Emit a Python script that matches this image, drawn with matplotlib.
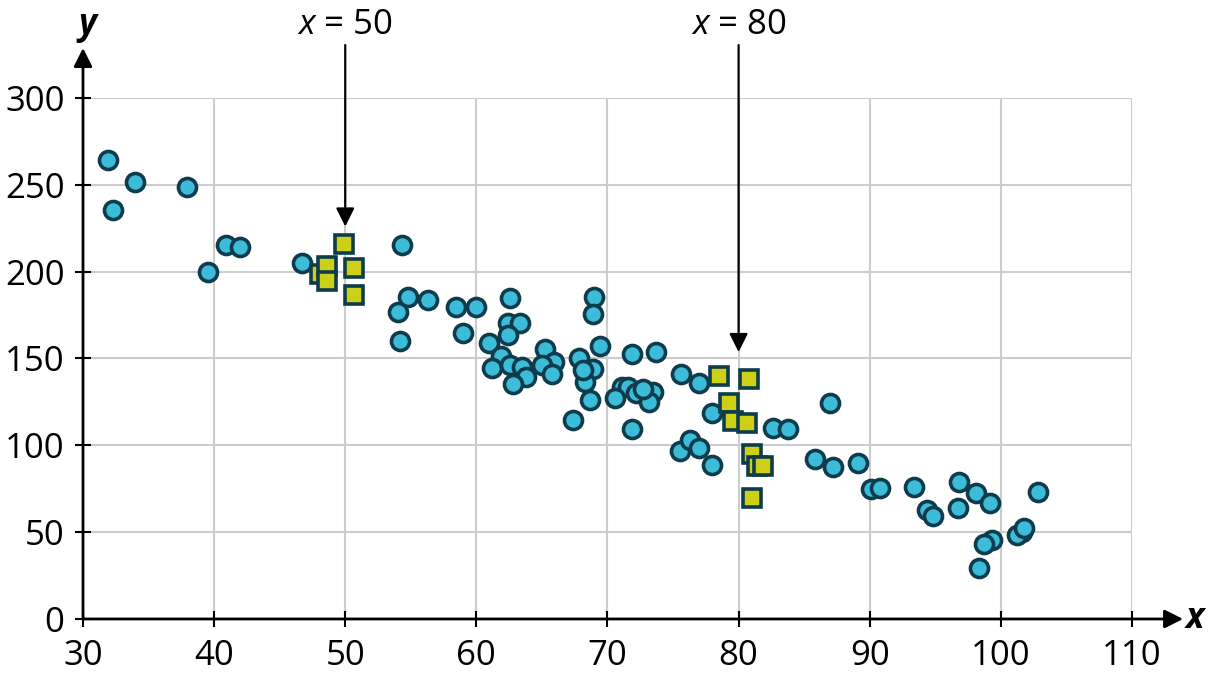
import matplotlib
matplotlib.use("Agg")
import matplotlib.pyplot as plt

plt.rcParams['font.family'] = ['Open Sans', 'DejaVu Sans']
plt.rcParams['mathtext.fontset'] = 'custom'
plt.rcParams['mathtext.it'] = 'Open Sans:italic'
plt.rcParams['mathtext.rm'] = 'Open Sans'

# circle points (general data)
circle_x = [31.9, 32.3, 34.0, 37.9, 39.5, 40.9, 42.0, 46.7, 54.3, 54.8, 54.0, 56.3, 54.2,
            58.45, 60.0, 59.0, 62.56, 62.4, 63.3, 62.4, 61.0, 61.9, 61.2, 62.56, 63.5, 63.8,
            62.8, 65.2, 65.9, 65.0, 65.8, 69.0, 68.9, 69.4, 67.8, 68.9, 68.3, 68.15, 68.7,
            67.35, 71.85, 73.7, 75.6, 77.0, 71.1, 71.6, 72.2, 73.5, 70.6, 73.2, 71.9, 72.7,
            75.5, 76.3, 77.0, 77.95, 77.95, 82.6, 83.8, 87.0, 85.8, 87.2, 89.1, 90.1, 90.8,
            93.4, 96.8, 98.1, 99.2, 102.8, 94.4, 94.8, 96.7, 99.3, 98.7, 101.6, 101.2, 101.8,
            98.3]
circle_y = [264.3, 235.5, 251.8, 248.9, 199.6, 215.2, 214.2, 205.2, 215.5, 185.6, 176.9, 183.7,
            160.1, 179.8, 179.5, 164.9, 184.7, 170.6, 170.3, 163.5, 159.1, 151.4, 144.7, 146.3,
            144.9, 139.2, 135.3, 155.5, 148.2, 146.3, 140.9, 185.2, 175.4, 157.4, 150.1, 144.0,
            136.6, 143.4, 126.1, 114.6, 152.4, 153.9, 141.1, 135.9, 133.8, 133.4, 130.3, 130.9,
            127.1, 125.1, 109.2, 132.3, 96.9, 103.1, 98.6, 88.7, 118.4, 109.8, 109.2, 124.2,
            92.0, 87.7, 90.0, 74.9, 75.3, 76.2, 79.1, 72.4, 66.6, 73.3, 62.8, 59.3, 63.7, 45.5,
            43.2, 50.3, 48.4, 52.4, 29.2]

# square points near x = 50 and x = 80
square_x = [48.07, 49.90, 48.59, 48.59, 50.67, 50.67,
            78.50, 80.79, 79.27, 79.59, 80.66, 81.04, 81.38, 81.88, 81.04]
square_y = [198.7, 215.8, 203.3, 194.6, 202.3, 186.4,
            139.9, 138.2, 124.5, 114.0, 112.7, 95.0, 88.3, 88.3, 69.5]

x_ticks = [30, 40, 50, 60, 70, 80, 90, 100, 110]
y_ticks = [0, 50, 100, 150, 200, 250, 300]
markers_x = [50, 80]
marker_nums = ["50", "80"]
arrow_tips = [226, 153.7]

fig = plt.figure(figsize=(12.1, 6.82), dpi=100)
ax = fig.add_axes([0.0686, 0.0924, 0.9355 - 0.0686, 0.8563 - 0.0924])
ax.set_xlim(30, 110)
ax.set_ylim(0, 300)
for s in ax.spines.values():
    s.set_visible(False)

ax.set_xticks(x_ticks)
ax.set_yticks(y_ticks)
ax.tick_params(direction='inout', length=11.5, width=1.5, labelsize=25, colors='black')
ax.tick_params(axis='x', pad=8.5)
ax.tick_params(axis='y', pad=7.5)
ax.grid(True, color='#cccccc', lw=1.5, zorder=0)
ax.set_axisbelow(True)

# axis arrows
ax.annotate('', xy=(113.9, 0), xytext=(30, 0), xycoords='data',
            arrowprops=dict(arrowstyle='-|>', mutation_scale=28, lw=2, color='black',
                            shrinkA=0, shrinkB=0), annotation_clip=False, zorder=3)
ax.annotate('', xy=(30, 328.8), xytext=(30, 0), xycoords='data',
            arrowprops=dict(arrowstyle='-|>', mutation_scale=28, lw=2, color='black',
                            shrinkA=0, shrinkB=0), annotation_clip=False, zorder=3)
ax.text(114.1, 0, 'x', fontsize=25, fontweight='bold', style='italic', ha='left', va='center')
ax.text(30.3, 342, 'y', fontsize=25, fontweight='bold', style='italic', ha='center', va='center')

ax.plot(circle_x, circle_y, 'o', ms=13, mfc='#3cbcd8', mec='#0e3c4c', mew=2.6, zorder=4, ls='none')
ax.plot(square_x, square_y, 's', ms=12.5, mfc='#cdd016', mec='#0e3c4c', mew=2.6, zorder=5, ls='none')

for mx, num, tip in zip(markers_x, marker_nums, arrow_tips):
    ax.annotate('', xy=(mx, tip), xytext=(mx, 330.5), xycoords='data',
                arrowprops=dict(arrowstyle='-|>', mutation_scale=28, lw=1.6, color='black',
                                shrinkA=0, shrinkB=0), annotation_clip=False, zorder=6)
    ax.text(mx, 342, r'$\it{x}$' + ' = ' + num, fontsize=25, ha='center', va='center')

fig.savefig('out.png', dpi=100)
